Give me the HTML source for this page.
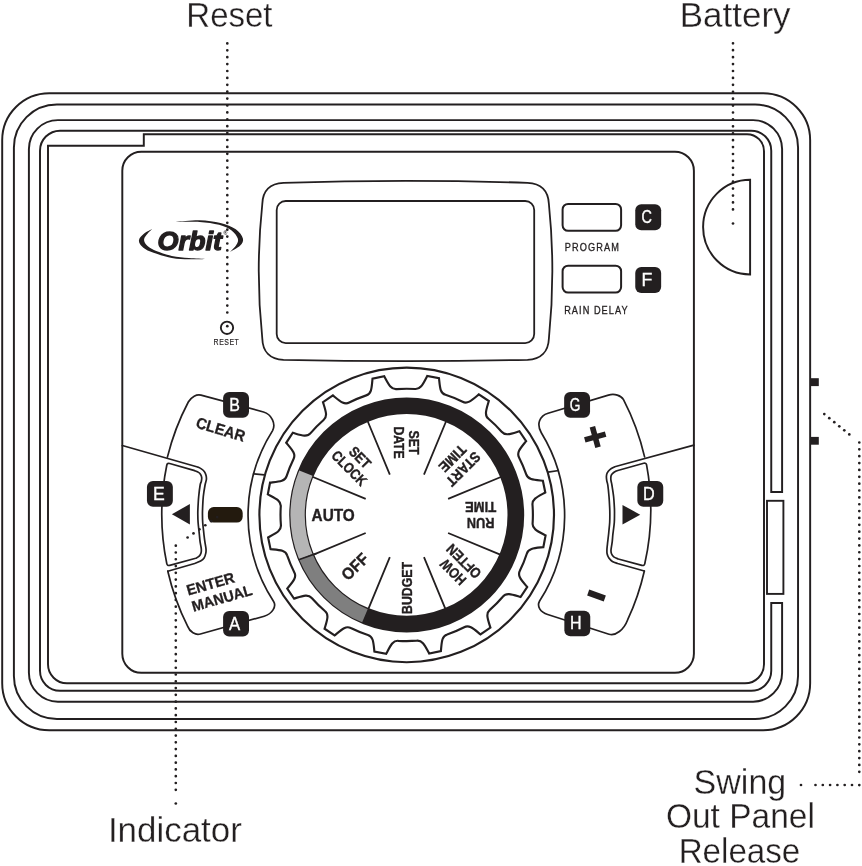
<!DOCTYPE html>
<html lang="en">
<head>
<meta charset="utf-8">
<title>Orbit timer controls</title>
<style>
html,body{margin:0;padding:0;background:#fff;}
body{width:862px;height:866px;overflow:hidden;font-family:"Liberation Sans",sans-serif;}
svg{display:block;will-change:transform;}
</style>
</head>
<body>
<svg width="862" height="866" viewBox="0 0 862 866" font-family="'Liberation Sans', sans-serif">
<rect width="862" height="866" fill="#fff"/>
<path d="M 49.2 93.2 H 763.15 A 47 47 0 0 1 810.15 140.2 V 683.3 A 47 47 0 0 1 763.15 730.3 H 49.2 A 47 47 0 0 1 2.2 683.3 V 140.2 A 47 47 0 0 1 49.2 93.2 Z" fill="none" stroke="#231f20" stroke-width="1.95" />
<path d="M 56.9 104.55 H 755.05 A 43 43 0 0 1 798.05 147.55 V 675.95 A 43 43 0 0 1 755.05 718.95 H 56.9 A 43 43 0 0 1 13.9 675.95 V 147.55 A 43 43 0 0 1 56.9 104.55 Z" fill="none" stroke="#231f20" stroke-width="1.95" />
<path d="M 782.1 491.9 V 149.1 A 29 29 0 0 0 753.1 120.1 H 57.9 A 29 29 0 0 0 28.9 149.1 V 672.65 A 29 29 0 0 0 57.9 701.65 H 753.1 A 29 29 0 0 0 782.1 672.65 V 602.9 H 771.25 V 670.8 A 20 20 0 0 1 751.25 690.8 H 60 A 20 20 0 0 1 40 670.8 V 150.7 A 20 20 0 0 1 60 130.7 H 751.25 A 20 20 0 0 1 771.25 150.7 V 491.9 Z" fill="none" stroke="#231f20" stroke-width="1.95" />
<path d="M 48 145.7 H 143.8 V 134.2 H 747 A 17 17 0 0 1 764 151.2 V 664.3 A 19 19 0 0 1 745 683.3 H 67 A 19 19 0 0 1 48 664.3 Z" fill="none" stroke="#231f20" stroke-width="1.95" />
<rect x="767" y="500.8" width="16.4" height="93.1" fill="#fff" stroke="#231f20" stroke-width="1.9"/>
<rect x="810" y="378.2" width="8.8" height="7.9" fill="#231f20"/>
<rect x="810" y="436.9" width="8.8" height="7.8" fill="#231f20"/>
<path d="M 141.3 151.7 H 674.9 A 19 19 0 0 1 693.9 170.7 V 653.8 A 19 19 0 0 1 674.9 672.8 H 141.3 A 19 19 0 0 1 122.3 653.8 V 170.7 A 19 19 0 0 1 141.3 151.7 Z" fill="none" stroke="#231f20" stroke-width="1.95" />
<path d="M 750.1 179.7 A 47 47.35 0 0 0 750.1 274.4 Z" fill="none" stroke="#231f20" stroke-width="1.95" />
<path d="M 262.3 204 C 262.6 191 270 183.3 283.5 182.8 Q 406 179 527.5 182.8 C 541 183.3 548.4 191 548.9 204 Q 555.8 271 548.9 338.5 C 548.4 351.5 541 359.2 527.5 359.8 Q 406 362.4 283.5 359.8 C 270 359.2 262.6 351.5 262.3 338.5 Q 255.2 271 262.3 204 Z" fill="none" stroke="#231f20" stroke-width="1.8" />
<path d="M 285.7 201 H 525.2 A 9 9 0 0 1 534.2 210 V 334.1 A 9 9 0 0 1 525.2 343.1 H 285.7 A 9 9 0 0 1 276.7 334.1 V 210 A 9 9 0 0 1 285.7 201 Z" fill="none" stroke="#231f20" stroke-width="1.8" />
<path d="M 568.1 203.9 H 615.6 A 5.5 5.5 0 0 1 621.1 209.4 V 225.3 A 5.5 5.5 0 0 1 615.6 230.8 H 568.1 A 5.5 5.5 0 0 1 562.6 225.3 V 209.4 A 5.5 5.5 0 0 1 568.1 203.9 Z" fill="none" stroke="#231f20" stroke-width="2" />
<path d="M 568.1 265.7 H 615.6 A 5.5 5.5 0 0 1 621.1 271.2 V 287.1 A 5.5 5.5 0 0 1 615.6 292.6 H 568.1 A 5.5 5.5 0 0 1 562.6 287.1 V 271.2 A 5.5 5.5 0 0 1 568.1 265.7 Z" fill="none" stroke="#231f20" stroke-width="2" />
<path d="M 152.3 229 C 150.9 229.78 146.12 231.88 143.9 233.7 C 141.68 235.52 139.35 237.82 139 239.9 C 138.65 241.98 139.82 244.22 141.8 246.2 C 143.78 248.18 145.9 249.83 150.9 251.8 C 155.9 253.77 165.45 256.75 171.8 258 C 178.15 259.25 183.22 259.15 189 259.3 C 194.78 259.45 203.58 258.97 206.5 258.9  C 203.58 258.73 194.78 258.4 189 257.9 C 183.22 257.4 177.65 257.22 171.8 255.9 C 165.95 254.58 158.15 251.85 153.9 250 C 149.65 248.15 147.93 246.6 146.3 244.8 C 144.67 243 143.9 241.05 144.1 239.2 C 144.3 237.35 146.13 235.4 147.5 233.7 C 148.87 232 151.5 229.78 152.3 229  Z" fill="#231f20"/>
<path d="M 175.7 221.9 C 179.68 221.62 192.13 220.02 199.6 220.2 C 207.07 220.38 214.47 221.48 220.5 223 C 226.53 224.52 232.07 226.72 235.8 229.3 C 239.53 231.88 242.17 235.78 242.9 238.5 C 243.63 241.22 242.35 243.35 240.2 245.6 C 238.05 247.85 231.7 250.93 230 252  C 231.07 250.8 235.1 247.05 236.4 244.8 C 237.7 242.55 238.6 240.9 237.8 238.5 C 237 236.1 234.72 232.68 231.6 230.4 C 228.48 228.12 224.43 226.22 219.1 224.8 C 213.77 223.38 206.83 222.38 199.6 221.9 C 192.37 221.42 179.68 221.9 175.7 221.9  Z" fill="#231f20"/>
<text x="189.7" y="249.6" font-size="26.4" font-weight="bold" font-style="italic" text-anchor="middle" fill="#231f20" stroke="#231f20" stroke-width="1.3" stroke-linejoin="round" textLength="64.5" lengthAdjust="spacingAndGlyphs">Orbit</text>
<text x="225.4" y="234.8" font-size="5.2" font-weight="bold" text-anchor="middle" fill="#231f20">®</text>
<text transform="translate(564.8 250.95) scale(0.9 1)" font-size="10.2" font-weight="normal" letter-spacing="1.24" fill="#231f20" stroke="#231f20" stroke-width="0.3">PROGRAM</text>
<text transform="translate(564.2 313.85) scale(0.9 1)" font-size="10.2" font-weight="normal" letter-spacing="1.17" fill="#231f20" stroke="#231f20" stroke-width="0.3">RAIN DELAY</text>
<text transform="translate(213.6 344.8) scale(0.84 1)" font-size="8.3" font-weight="normal" letter-spacing="0.6" fill="#231f20" stroke="#231f20" stroke-width="0.15">RESET</text>
<circle cx="227.0" cy="327.8" r="6.15" fill="none" stroke="#231f20" stroke-width="1.9"/>
<circle cx="406.7" cy="514.9" r="147.3" fill="none" stroke="#231f20" stroke-width="2.15"/>
<path d="M 384.25 376.31 C 388.57 384.25 390.88 389.7 396.58 389.11 A 126.2 126.2 0 0 1 415.06 388.98 C 420.77 389.49 423 384.01 427.21 376.01 L 439 378.27 C 439.95 387.26 440 393.17 445.49 394.81 A 126.2 126.2 0 0 1 462.62 401.76 C 467.69 404.42 471.85 400.21 478.8 394.43 L 488.83 401.03 C 486.26 409.7 484.05 415.18 488.49 418.79 A 126.2 126.2 0 0 1 501.65 431.77 C 505.33 436.17 510.78 433.88 519.42 431.19 L 526.15 441.12 C 520.47 448.15 516.32 452.37 519.04 457.41 A 126.2 126.2 0 0 1 526.24 474.44 C 527.95 479.9 533.86 479.87 542.87 480.7 L 545.29 492.45 C 537.35 496.77 531.9 499.08 532.49 504.78 A 126.2 126.2 0 0 1 532.62 523.26 C 532.11 528.97 537.59 531.2 545.59 535.41 L 543.33 547.2 C 534.34 548.15 528.43 548.2 526.79 553.69 A 126.2 126.2 0 0 1 519.84 570.82 C 517.18 575.89 521.39 580.05 527.17 587 L 520.57 597.03 C 511.9 594.46 506.42 592.25 502.81 596.69 A 126.2 126.2 0 0 1 489.83 609.85 C 485.43 613.53 487.72 618.98 490.41 627.62 L 480.48 634.35 C 473.45 628.67 469.23 624.52 464.19 627.24 A 126.2 126.2 0 0 1 447.16 634.44 C 441.7 636.15 441.73 642.06 440.9 651.07 L 429.15 653.49 C 424.83 645.55 422.52 640.1 416.82 640.69 A 126.2 126.2 0 0 1 398.34 640.82 C 392.63 640.31 390.4 645.79 386.19 653.79 L 374.4 651.53 C 373.45 642.54 373.4 636.63 367.91 634.99 A 126.2 126.2 0 0 1 350.78 628.04 C 345.71 625.38 341.55 629.59 334.6 635.37 L 324.57 628.77 C 327.14 620.1 329.35 614.62 324.91 611.01 A 126.2 126.2 0 0 1 311.75 598.03 C 308.07 593.63 302.62 595.92 293.98 598.61 L 287.25 588.68 C 292.93 581.65 297.08 577.43 294.36 572.39 A 126.2 126.2 0 0 1 287.16 555.36 C 285.45 549.9 279.54 549.93 270.53 549.1 L 268.11 537.35 C 276.05 533.03 281.5 530.72 280.91 525.02 A 126.2 126.2 0 0 1 280.78 506.54 C 281.29 500.83 275.81 498.6 267.81 494.39 L 270.07 482.6 C 279.06 481.65 284.97 481.6 286.61 476.11 A 126.2 126.2 0 0 1 293.56 458.98 C 296.22 453.91 292.01 449.75 286.23 442.8 L 292.83 432.77 C 301.5 435.34 306.98 437.55 310.59 433.11 A 126.2 126.2 0 0 1 323.57 419.95 C 327.97 416.27 325.68 410.82 322.99 402.18 L 332.92 395.45 C 339.95 401.13 344.17 405.28 349.21 402.56 A 126.2 126.2 0 0 1 366.24 395.36 C 371.7 393.65 371.67 387.74 372.5 378.73 L 384.25 376.31 Z" fill="none" stroke="#231f20" stroke-width="2.15" stroke-linejoin="miter"/>
<path d="M 423.97 474.69 L 446.32 420.74 M 448.11 498.83 L 502.06 476.48 M 448.11 532.97 L 502.06 555.32 M 423.97 557.11 L 446.32 611.06 M 389.83 557.11 L 367.48 611.06 M 365.69 532.97 L 311.74 555.32 M 365.69 498.83 L 311.74 476.48 M 389.83 474.69 L 367.48 420.74 " fill="none" stroke="#231f20" stroke-width="1.8" />
<circle cx="406.7" cy="514.9" r="109.15" fill="none" stroke="#231f20" stroke-width="16.7"/>
<path d="M 305.86 556.67 A 109.15 109.15 0 0 1 305.86 473.13" fill="none" stroke="#b5b5b5" stroke-width="14.3"/>
<path d="M 364.93 615.74 A 109.15 109.15 0 0 1 305.86 556.67" fill="none" stroke="#7f7f7f" stroke-width="14.3"/>
<path d="M 316.36 553.4 L 298.61 559.67" fill="none" stroke="#231f20" stroke-width="1.6" />
<g transform="translate(406.7 442.5) rotate(90)" font-weight="bold" font-size="14.5" text-anchor="middle" fill="#231f20" stroke="#231f20" stroke-width="0.4">
<text x="0" y="-2.61" textLength="24" lengthAdjust="spacingAndGlyphs">SET</text>
<text x="0" y="12.59" textLength="32.2" lengthAdjust="spacingAndGlyphs">DATE</text>
</g>
<g transform="translate(457.89 463.71) rotate(135)" font-weight="bold" font-size="14.5" text-anchor="middle" fill="#231f20" stroke="#231f20" stroke-width="0.4">
<text x="0" y="-2.61" textLength="41.8" lengthAdjust="spacingAndGlyphs">START</text>
<text x="0" y="12.59" textLength="32" lengthAdjust="spacingAndGlyphs">TIME</text>
</g>
<g transform="translate(480.6 514.9) rotate(180)" font-weight="bold" font-size="14.5" text-anchor="middle" fill="#231f20" stroke="#231f20" stroke-width="0.4">
<text x="0" y="-2.61" textLength="27.6" lengthAdjust="spacingAndGlyphs">RUN</text>
<text x="0" y="12.59" textLength="31.2" lengthAdjust="spacingAndGlyphs">TIME</text>
</g>
<g transform="translate(458.46 566.66) rotate(225)" font-weight="bold" font-size="14.5" text-anchor="middle" fill="#231f20" stroke="#231f20" stroke-width="0.4">
<text x="0" y="-2.61" textLength="29.8" lengthAdjust="spacingAndGlyphs">HOW</text>
<text x="0" y="12.59" textLength="42" lengthAdjust="spacingAndGlyphs">OFTEN</text>
</g>
<g transform="translate(406.7 588) rotate(270)" font-weight="bold" font-size="14.5" text-anchor="middle" fill="#231f20" stroke="#231f20" stroke-width="0.4">
<text x="0" y="4.99" textLength="51.9" lengthAdjust="spacingAndGlyphs">BUDGET</text>
</g>
<g transform="translate(354.94 566.66) rotate(315)" font-weight="bold" font-size="16.4" text-anchor="middle" fill="#231f20" stroke="#231f20" stroke-width="0.4">
<text x="0" y="5.64" textLength="30.6" lengthAdjust="spacingAndGlyphs">OFF</text>
</g>
<g transform="translate(333.2 514.9) rotate(360)" font-weight="bold" font-size="17" text-anchor="middle" fill="#231f20" stroke="#231f20" stroke-width="0.4">
<text x="0" y="5.85" textLength="43.2" lengthAdjust="spacingAndGlyphs">AUTO</text>
</g>
<g transform="translate(354.66 462.86) rotate(405)" font-weight="bold" font-size="14.5" text-anchor="middle" fill="#231f20" stroke="#231f20" stroke-width="0.4">
<text x="0" y="-2.61" textLength="24" lengthAdjust="spacingAndGlyphs">SET</text>
<text x="0" y="12.59" textLength="43" lengthAdjust="spacingAndGlyphs">CLOCK</text>
</g>
<path d="M 122.3 445.55 L 197.6 467 C 198.22 467.32 200.16 468.12 201.3 468.9 C 202.44 469.68 203.67 470.65 204.45 471.7 C 205.23 472.75 205.68 473.92 206 475.2 C 206.32 476.48 206.56 477.77 206.4 479.4 C 206.24 481.03 205.57 482.15 205.05 485 C 204.53 487.85 203.71 492.65 203.3 496.5 C 202.89 500.35 202.74 505.18 202.6 508.1 C 202.46 511.02 202.43 511.6 202.45 514 C 202.47 516.4 202.51 519.63 202.7 522.5 C 202.89 525.37 203.38 529.12 203.6 531.2 C 203.82 533.28 203.78 533.21 204 535 C 204.22 536.79 204.57 539.64 204.9 541.96 C 205.23 544.28 205.85 547.04 206 548.9 C 206.15 550.76 206.12 551.58 205.8 553.1 C 205.48 554.62 204.97 556.67 204.1 558 C 203.23 559.33 202.17 560.18 200.6 561.1 C 199.03 562.02 195.68 563.1 194.7 563.5  L 167.8 571.2" fill="none" stroke="#231f20" stroke-width="1.7" stroke-linejoin="round" stroke-linecap="round"/>
<path d="M 167.4 457.1 A 245.6 245.6 0 0 1 188.3 402 C 191.21 396.9 196.8 393.87 201 395.1 L 263.5 412.0 C 271.55 414.3 276.1 423.6 272.6 430.6 A 158.4 158.4 0 0 0 273.6 601.5 C 276.8 606.55 272.1 613.9 264.2 616.2 L 200.4 634.0 C 195.42 635.4 189.83 632.06 187.7 626.4 A 245.6 245.6 0 0 1 167.8 571.2" fill="none" stroke="#231f20" stroke-width="1.7" stroke-linejoin="round" stroke-linecap="round"/>
<path d="M 166.78 563.56 A 245.6 245.6 0 0 1 166.77 465.24 Q 167.3 462.8 169.7 463.49 L 194.7 470.66 C 195.33 470.95 197.52 471.76 198.5 472.4 C 199.48 473.04 200.07 473.63 200.6 474.5 C 201.13 475.37 201.58 476.44 201.7 477.6 C 201.82 478.76 201.56 480.22 201.3 481.45 C 201.04 482.68 200.58 482.49 200.15 485 C 199.72 487.51 199.07 492.65 198.7 496.5 C 198.33 500.35 198.1 505.18 197.95 508.1 C 197.8 511.02 197.78 511.6 197.8 514 C 197.83 516.4 197.9 519.63 198.1 522.5 C 198.3 525.37 198.78 529.12 199 531.2 C 199.22 533.28 199.22 533.21 199.4 535 C 199.58 536.79 199.78 539.64 200.1 541.96 C 200.42 544.28 201.15 547.04 201.3 548.9 C 201.45 550.76 201.35 551.88 201 553.1 C 200.65 554.32 200.07 555.33 199.2 556.2 C 198.32 557.07 196.32 557.95 195.75 558.3  L 169.71 565.35 Q 167.3 566 166.78 563.56 Z" fill="none" stroke="#231f20" stroke-width="1.7" stroke-linejoin="round" stroke-linecap="round"/>
<path d="M 252.9 473.75 L 264.4 474.8" fill="none" stroke="#231f20" stroke-width="1.7" />
<rect x="207.9" y="507.1" width="34.8" height="15.5" rx="5.8" ry="5.8" fill="#231a0e"/>
<path d="M 171.9 514.2 L 189.9 504 L 189.9 524.5 Z" fill="#231f20"/>
<path d="M 693.9 445.1 L 622 464.8 L 614.8 466.8 C 613.98 467.27 611.18 468.55 609.9 469.6 C 608.62 470.65 607.68 471.93 607.1 473.1 C 606.52 474.27 606.45 475.32 606.4 476.6 C 606.35 477.88 606.57 479.4 606.8 480.8 C 607.03 482.2 607.43 482.38 607.8 485 C 608.17 487.62 608.68 492.67 609 496.5 C 609.32 500.33 609.56 505.08 609.7 508 C 609.84 510.92 609.85 511.58 609.85 514 C 609.85 516.42 609.86 519.67 609.7 522.5 C 609.54 525.33 609.1 528.92 608.9 531 C 608.7 533.08 608.7 533.17 608.5 535 C 608.3 536.83 607.96 539.64 607.7 541.96 C 607.44 544.28 607.06 546.93 606.96 548.9 C 606.86 550.87 606.78 552.28 607.1 553.8 C 607.42 555.32 608.02 556.73 608.9 558 C 609.78 559.27 610.95 560.53 612.4 561.45 C 613.85 562.37 616.73 563.16 617.6 563.5  L 644.3 571.0" fill="none" stroke="#231f20" stroke-width="1.7" stroke-linejoin="round" stroke-linecap="round"/>
<path d="M 644.6 456.9 A 245 245 0 0 0 623.5 399.6 C 621.09 395.34 614.45 393.36 608.4 395.1 L 548.1 413.2 C 539.36 415.78 536.37 424.4 541.3 432.8 A 158.4 158.4 0 0 1 539.6 601 C 536.63 606.32 540.2 612.26 547.7 614.5 L 609.0 634.2 C 615.61 636.22 623.84 629.84 627.7 619.7 A 245 245 0 0 0 644.3 571.2" fill="none" stroke="#231f20" stroke-width="1.7" stroke-linejoin="round" stroke-linecap="round"/>
<path d="M 644.83 563.56 A 245 245 0 0 0 646.62 465.04 Q 646.1 462.6 643.69 463.27 L 616.9 470.7 C 616.32 471.04 614.33 472 613.4 472.75 C 612.47 473.5 611.73 474.21 611.3 475.2 C 610.87 476.19 610.8 477.55 610.8 478.7 C 610.8 479.85 611.12 481.05 611.3 482.1 C 611.48 483.15 611.52 482.6 611.9 485 C 612.28 487.4 613.18 492.67 613.6 496.5 C 614.02 500.33 614.25 505.08 614.4 508 C 614.55 510.92 614.52 511.58 614.5 514 C 614.48 516.42 614.5 519.67 614.3 522.5 C 614.1 525.33 613.55 528.92 613.3 531 C 613.05 533.08 612.98 533.17 612.8 535 C 612.62 536.83 612.5 539.46 612.2 541.96 C 611.9 544.46 611.12 548.03 611 550 C 610.88 551.97 611.04 552.65 611.5 553.8 C 611.96 554.95 612.62 556.03 613.75 556.9 C 614.88 557.77 617.54 558.65 618.3 559  L 641.89 565.35 Q 644.3 566.0 644.83 563.56 Z" fill="none" stroke="#231f20" stroke-width="1.7" stroke-linejoin="round" stroke-linecap="round"/>
<path d="M 548.0 472.15 L 558.9 470.5" fill="none" stroke="#231f20" stroke-width="1.7" />
<path d="M 640.2 514.7 L 622.5 504.9 L 622.5 524.5 Z" fill="#231f20"/>
<g transform="translate(595.2 437) rotate(-15.2)" fill="#231f20"><rect x="-10.8" y="-2.8" width="21.6" height="5.6"/><rect x="-2.8" y="-10.7" width="5.6" height="21.4"/></g>
<g transform="translate(596.5 595.5) rotate(19.3)" fill="#231f20"><rect x="-8.8" y="-3.15" width="17.6" height="6.3"/></g>
<g transform="translate(219.2 434.5) rotate(16.5)" font-weight="bold" font-size="15.6" text-anchor="middle" fill="#231f20" stroke="#231f20" stroke-width="0.3">
<text x="0" y="0" textLength="50.6" lengthAdjust="spacingAndGlyphs">CLEAR</text></g>
<g transform="translate(211.9 588.8) rotate(-16)" font-weight="bold" font-size="14.9" text-anchor="middle" fill="#231f20" stroke="#231f20" stroke-width="0.3">
<text x="0" y="0" textLength="49.2" lengthAdjust="spacingAndGlyphs">ENTER</text></g>
<g transform="translate(223.35 603.1) rotate(-16)" font-weight="bold" font-size="14.9" text-anchor="middle" fill="#231f20" stroke="#231f20" stroke-width="0.3">
<text x="0" y="0" textLength="62.2" lengthAdjust="spacingAndGlyphs">MANUAL</text></g>
<rect x="635.25" y="204.35" width="25.9" height="25.9" rx="6" ry="6" fill="#231f20"/>
<text transform="translate(646.75 223.35) scale(0.82 1)" x="0" y="0" font-size="17.6" text-anchor="middle" fill="#fff" stroke="#fff" stroke-width="0.35">C</text>
<rect x="635.25" y="267.05" width="25.9" height="25.9" rx="6" ry="6" fill="#231f20"/>
<text transform="translate(647.05 286.42) scale(1 1)" x="0" y="0" font-size="17.8" text-anchor="middle" fill="#fff" stroke="#fff" stroke-width="0.35">F</text>
<rect x="223.1" y="391.95" width="25.9" height="25.7" rx="6" ry="6" fill="#231f20"/>
<text transform="translate(234.6 410.62) scale(0.9 1)" x="0" y="0" font-size="17.8" text-anchor="middle" fill="#fff" stroke="#fff" stroke-width="0.35">B</text>
<rect x="564.15" y="391.95" width="25.9" height="25.7" rx="6" ry="6" fill="#231f20"/>
<text transform="translate(575.15 411.08) scale(0.76 1)" x="0" y="0" font-size="18.1" text-anchor="middle" fill="#fff" stroke="#fff" stroke-width="0.35">G</text>
<rect x="146.95" y="481.05" width="25.9" height="25.7" rx="6" ry="6" fill="#231f20"/>
<text transform="translate(158.85 499.72) scale(0.99 1)" x="0" y="0" font-size="17.8" text-anchor="middle" fill="#fff" stroke="#fff" stroke-width="0.35">E</text>
<rect x="637.35" y="481.05" width="25.9" height="25.7" rx="6" ry="6" fill="#231f20"/>
<text transform="translate(648.85 499.72) scale(0.91 1)" x="0" y="0" font-size="17.8" text-anchor="middle" fill="#fff" stroke="#fff" stroke-width="0.35">D</text>
<rect x="223.1" y="610.95" width="25.9" height="25.5" rx="6" ry="6" fill="#231f20"/>
<text transform="translate(234.5 629.52) scale(0.94 1)" x="0" y="0" font-size="17.8" text-anchor="middle" fill="#fff" stroke="#fff" stroke-width="0.35">A</text>
<rect x="564.35" y="610.85" width="25.9" height="25.5" rx="6" ry="6" fill="#231f20"/>
<text transform="translate(575.85 629.42) scale(0.9 1)" x="0" y="0" font-size="17.8" text-anchor="middle" fill="#fff" stroke="#fff" stroke-width="0.35">H</text>
<path d="M 227.3 43.4 V 313" fill="none" stroke="#231f20" stroke-width="2.7" stroke-linecap="round" stroke-dasharray="0 6.9"/>
<circle cx="227.3" cy="326.2" r="1.35" fill="#231f20"/>
<path d="M 733.0 43.3 V 209.88" fill="none" stroke="#231f20" stroke-width="2.7" stroke-linecap="round" stroke-dasharray="0 6.92"/>
<circle cx="733" cy="223.5" r="1.35" fill="#231f20"/>
<path d="M 175.8 545.7 V 790.39" fill="none" stroke="#231f20" stroke-width="2.7" stroke-linecap="round" stroke-dasharray="0 6.78"/>
<circle cx="175.8" cy="803.5" r="1.35" fill="#231f20"/>
<circle cx="217.1" cy="517.1" r="1.35" fill="#231f20"/>
<circle cx="211.2" cy="521.18" r="1.35" fill="#231f20"/>
<circle cx="205.3" cy="525.26" r="1.35" fill="#231f20"/>
<circle cx="199.4" cy="529.34" r="1.35" fill="#231f20"/>
<circle cx="193.5" cy="533.42" r="1.35" fill="#231f20"/>
<circle cx="187.6" cy="537.5" r="1.35" fill="#231f20"/>
<circle cx="824.3" cy="414.1" r="1.35" fill="#231f20"/>
<circle cx="829.3" cy="418.16" r="1.35" fill="#231f20"/>
<circle cx="834.3" cy="422.22" r="1.35" fill="#231f20"/>
<circle cx="839.3" cy="426.28" r="1.35" fill="#231f20"/>
<circle cx="844.3" cy="430.34" r="1.35" fill="#231f20"/>
<circle cx="849.3" cy="434.4" r="1.35" fill="#231f20"/>
<path d="M 859.3 442.5 V 772.09" fill="none" stroke="#231f20" stroke-width="2.7" stroke-linecap="round" stroke-dasharray="0 6.86"/>
<circle cx="859.3" cy="785.1" r="1.35" fill="#231f20"/>
<circle cx="852" cy="785" r="1.35" fill="#231f20"/>
<circle cx="844.7" cy="785" r="1.35" fill="#231f20"/>
<circle cx="837.4" cy="785" r="1.35" fill="#231f20"/>
<circle cx="830.1" cy="785" r="1.35" fill="#231f20"/>
<circle cx="822.8" cy="785" r="1.35" fill="#231f20"/>
<circle cx="815.5" cy="785" r="1.35" fill="#231f20"/>
<circle cx="801" cy="785" r="1.35" fill="#231f20"/>
<text x="229.4" y="26.9" font-size="35" font-weight="normal" text-anchor="middle" fill="#231f20" textLength="86.2" lengthAdjust="spacingAndGlyphs" stroke="#fff" stroke-width="0.3">Reset</text>
<text x="735.2" y="26.6" font-size="35" font-weight="normal" text-anchor="middle" fill="#231f20" textLength="110.8" lengthAdjust="spacingAndGlyphs" stroke="#fff" stroke-width="0.3">Battery</text>
<text x="174.9" y="841.5" font-size="35" font-weight="normal" text-anchor="middle" fill="#231f20" textLength="134" lengthAdjust="spacingAndGlyphs" stroke="#fff" stroke-width="0.3">Indicator</text>
<text x="739.9" y="794.4" font-size="35" font-weight="normal" text-anchor="middle" fill="#231f20" textLength="92.6" lengthAdjust="spacingAndGlyphs" stroke="#fff" stroke-width="0.3">Swing</text>
<text x="740.4" y="828.3" font-size="35" font-weight="normal" text-anchor="middle" fill="#231f20" textLength="149" lengthAdjust="spacingAndGlyphs" stroke="#fff" stroke-width="0.3">Out Panel</text>
<text x="739.5" y="862.5" font-size="35" font-weight="normal" text-anchor="middle" fill="#231f20" textLength="121.6" lengthAdjust="spacingAndGlyphs" stroke="#fff" stroke-width="0.3">Release</text>
</svg>
</body>
</html>
